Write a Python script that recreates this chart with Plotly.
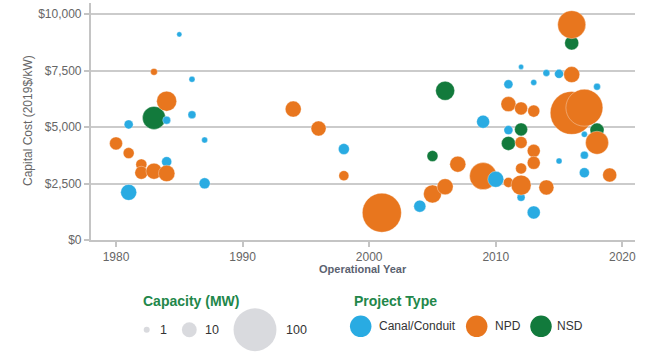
import math
import plotly.graph_objects as go

# ---------------- data ----------------
canal_years = [1981, 1981, 1984, 1984, 1985, 1986, 1986, 1987, 1987, 1998, 2004, 2009, 2010,
               2011, 2011, 2012, 2012, 2013, 2013, 2014, 2015, 2015, 2017, 2017, 2017, 2018]
canal_cost = [5120, 2110, 5310, 3470, 9110, 7120, 5550, 4430, 2510, 4030, 1500, 5240, 2690,
              6900, 4870, 7670, 1890, 6980, 1220, 7400, 7360, 3500, 4680, 3760, 2980, 6790]
canal_mw = [3.0, 11.8, 2.2, 3.9, 0.6, 1.0, 2.2, 1.0, 4.9, 4.9, 6.1, 7.3, 11.8,
            3.0, 3.0, 0.6, 2.2, 1.0, 7.3, 1.5, 3.0, 1.0, 1.0, 2.2, 3.9, 1.5]

npd_years = [1980, 1981, 1982, 1982, 1983, 1983, 1984, 1984, 1994, 1996, 1998, 2001, 2005,
             2006, 2007, 2009, 2011, 2011, 2012, 2012, 2012, 2012, 2013, 2013, 2013, 2014,
             2016, 2016, 2016, 2017, 2018, 2019]
npd_cost = [4280, 3850, 3350, 2980, 7450, 3050, 6150, 2950, 5800, 4940, 2850, 1210, 2040,
            2360, 3360, 2830, 6020, 2550, 5830, 4320, 3170, 2430, 5710, 3950, 3420, 2330,
            9540, 7330, 5630, 5860, 4310, 2880]
npd_mw = [7.3, 4.9, 4.9, 7.3, 1.5, 11.8, 19.5, 12.5, 11.8, 10.2, 3.9, 82, 15.4,
          11.8, 11.8, 37.5, 10.2, 3.9, 7.3, 6.1, 4.9, 19.5, 6.1, 7.3, 7.3, 10.2,
          40.5, 11.8, 100, 73, 26.5, 8.7]

nsd_years = [1983, 2005, 2006, 2011, 2012, 2016, 2018]
nsd_cost = [5410, 3720, 6610, 4280, 4900, 8730, 4870]
nsd_mw = [26.5, 4.9, 17.4, 8.7, 7.3, 8.7, 8.7]

type_names = ["Canal/Conduit", "NPD", "NSD"]
size_legend_mw = [1, 10, 100]
x_ticks = [1980, 1990, 2000, 2010, 2020]
y_ticks = [0, 2500, 5000, 7500, 10000]
y_tick_labels = ["$" + format(v, ",") for v in y_ticks]

# ---------------- styles ----------------
COLORS = {"Canal/Conduit": "#29ABE2", "NPD": "#E8761E", "NSD": "#127A3C"}
GRAY_BUBBLE = "#C9CBD0"
TITLE_GREEN = "#22874A"
FONT = "Liberation Sans, Arial, sans-serif"
W, H = 666, 353
LEG_TOP = 276  # pixel row where the legend strip begins


def diam(mw):
    return 1.9 + 4.1 * math.sqrt(mw)


# combine, drawn in year order (later years on top)
pts = []
for name, ys, cs, ms in [("Canal/Conduit", canal_years, canal_cost, canal_mw),
                         ("NSD", nsd_years, nsd_cost, nsd_mw),
                         ("NPD", npd_years, npd_cost, npd_mw)]:
    for y, c, m in zip(ys, cs, ms):
        pts.append((y, c, m, name))
pts.sort(key=lambda p: p[0])

fig = go.Figure()
fig.add_trace(go.Scatter(
    x=[p[0] for p in pts], y=[p[1] for p in pts], mode="markers",
    marker=dict(size=[diam(p[2]) for p in pts], color=[COLORS[p[3]] for p in pts],
                opacity=1, line=dict(width=0.6, color="rgba(255,255,255,0.55)")),
    text=[p[3] for p in pts], customdata=[p[2] for p in pts],
    hovertemplate="%{text}<br>%{x}: $%{y:,}<br>%{customdata} MW<extra></extra>",
    showlegend=False, cliponaxis=False, xaxis="x", yaxis="y"))

# ---------------- custom legend (pixel-coordinate axes in the bottom strip) ----------------
size_x = [146.7, 189.3, 255.0]
size_y = 329.7
size_lbl_x = [157.7, 203.0, 284.0]
type_x = [360.7, 476.7, 541.0]
type_y = 326.3
type_lbl_x = [376.7, 493.3, 555.0]

fig.add_trace(go.Scatter(
    x=size_x, y=[size_y] * 3, mode="markers",
    marker=dict(size=[diam(m) for m in size_legend_mw], color=GRAY_BUBBLE, line=dict(width=0)),
    hoverinfo="skip", showlegend=False, xaxis="x2", yaxis="y2", cliponaxis=False))
fig.add_trace(go.Scatter(
    x=type_x, y=[type_y] * 3, mode="markers",
    marker=dict(size=21.5, color=[COLORS[n] for n in type_names], line=dict(width=0)),
    hoverinfo="skip", showlegend=False, xaxis="x2", yaxis="y2", cliponaxis=False))

annotations = []
for xl, m in zip(size_lbl_x, size_legend_mw):
    annotations.append(dict(x=xl / W, y=1 - size_y / H, xref="paper", yref="paper",
                            text=str(m), showarrow=False, xanchor="left", yanchor="middle",
                            font=dict(family=FONT, size=12.5, color="#333333")))
for xl, n in zip(type_lbl_x, type_names):
    annotations.append(dict(x=xl / W, y=1 - type_y / H, xref="paper", yref="paper",
                            text=n, showarrow=False, xanchor="left", yanchor="middle",
                            font=dict(family=FONT, size=12, color="#333333")))
annotations.append(dict(x=141 / W, y=1 - 301.3 / H, xref="paper", yref="paper",
                        text="<b>Capacity (MW)</b>", showarrow=False, xanchor="left",
                        yanchor="middle", font=dict(family=FONT, size=14, color=TITLE_GREEN)))
annotations.append(dict(x=351.5 / W, y=1 - 301.3 / H, xref="paper", yref="paper",
                        text="<b>Project Type</b>", showarrow=False, xanchor="left",
                        yanchor="middle", font=dict(family=FONT, size=14, color=TITLE_GREEN)))
annotations.append(dict(x=362.7 / W, y=1 - 269.3 / H, xref="paper", yref="paper",
                        text="<b>Operational Year</b>", showarrow=False, xanchor="center",
                        yanchor="middle", font=dict(family=FONT, size=11, color="#5B6270")))
annotations.append(dict(x=28 / W, y=1 - 121 / H, xref="paper", yref="paper",
                        text="Capital Cost (2019$/kW)", showarrow=False, textangle=-90,
                        xanchor="center", yanchor="middle",
                        font=dict(family=FONT, size=12, color="#666666")))

AX = "#C4C4C4"
fig.update_layout(
    template="none",
    width=W, height=H, margin=dict(l=0, r=0, t=0, b=0, pad=0, autoexpand=False),
    paper_bgcolor="white", plot_bgcolor="rgba(0,0,0,0)",
    font=dict(family=FONT, size=12, color="#666666"),
    showlegend=False,
    xaxis=dict(domain=[90.7 / W, 635 / W], range=[1978, 2021], tickvals=x_ticks,
               showgrid=False, zeroline=False, showline=True, linecolor=AX, linewidth=1.5,
               ticks="outside", ticklen=5, tickcolor=AX, tickwidth=1.5, automargin=False,
               tickfont=dict(size=12, color="#666666"), anchor="y", fixedrange=True),
    yaxis=dict(domain=[1 - 240 / H, 1 - 3 / H], range=[0, 10500], tickvals=y_ticks,
               ticktext=y_tick_labels, showgrid=True, gridcolor="#CBCBCB",
               gridwidth=1.5, zeroline=False, showline=True, linecolor=AX, linewidth=1.5,
               ticks="outside", ticklen=5, tickcolor=AX, tickwidth=1.5, automargin=False,
               tickfont=dict(size=12, color="#666666"), anchor="x", fixedrange=True),
    xaxis2=dict(domain=[0, 1], range=[0, W], visible=False, anchor="y2", fixedrange=True,
                automargin=False),
    yaxis2=dict(domain=[0, 1 - LEG_TOP / H], range=[H, LEG_TOP], visible=False,
                anchor="x2", fixedrange=True, automargin=False),
    annotations=annotations,
)

fig.write_html("out.html")
